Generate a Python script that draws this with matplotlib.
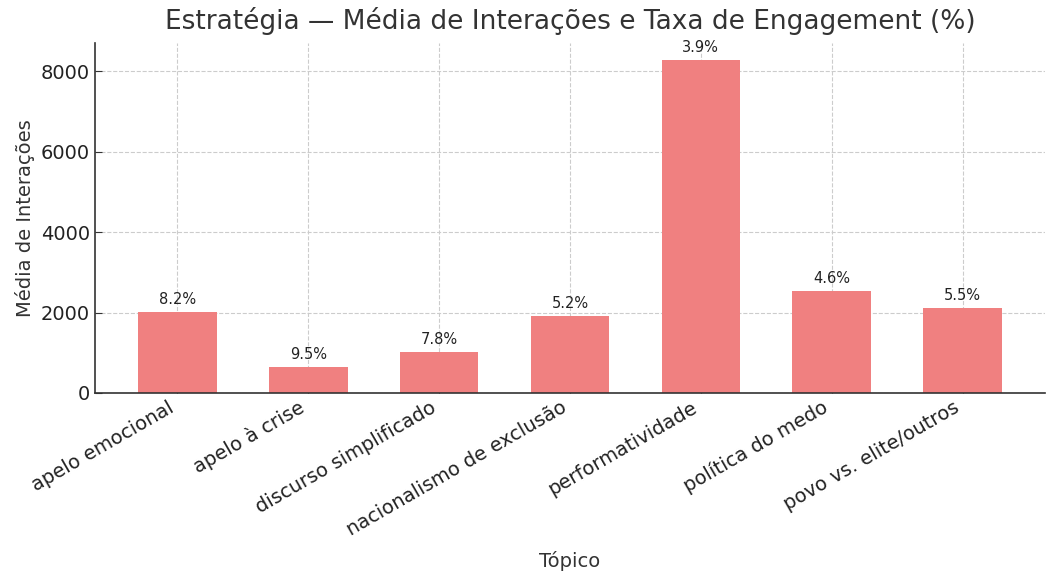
import matplotlib
matplotlib.use("Agg")
import matplotlib.pyplot as plt

topics = ["apelo emocional", "apelo à crise", "discurso simplificado",
          "nacionalismo de exclusão", "performatividade", "política do medo",
          "povo vs. elite/outros"]
interactions = [2020, 650, 1020, 1920, 8290, 2540, 2120]
engagement = [8.2, 9.5, 7.8, 5.2, 3.9, 4.6, 5.5]

fig = plt.figure(figsize=(10.47, 5.72), dpi=100)
ax = fig.add_axes([95/1047, 1 - 393/572, (1045-95)/1047, (393-43)/572])

x = range(len(topics))
bars = ax.bar(x, interactions, width=0.6, color="#F08080", zorder=2)
for b, e in zip(bars, engagement):
    ax.text(b.get_x() + b.get_width()/2, b.get_height() + 120, f"{e}%",
            ha="center", va="bottom", fontsize=10.5, color="#222222", zorder=3)

ax.set_xticks(list(x))
ax.set_xticklabels(topics, rotation=30, ha="right", fontsize=14)
ax.tick_params(axis="y", labelsize=14)
ax.tick_params(direction="in", length=5, color="#333333", labelcolor="#222222")
ax.set_ylabel("Média de Interações", fontsize=14, color="#333333")
ax.set_xlabel("Tópico", fontsize=14, color="#333333", labelpad=8)
ax.set_title("Estratégia — Média de Interações e Taxa de Engagement (%)",
             fontsize=19, color="#333333", pad=10)
ax.grid(True, linestyle="--", color="#cccccc", linewidth=0.8, zorder=0)
ax.set_axisbelow(True)
for s in ["top", "right"]:
    ax.spines[s].set_visible(False)
for s in ["left", "bottom"]:
    ax.spines[s].set_color("#333333")
    ax.spines[s].set_linewidth(1.2)
ax.set_yticks([0, 2000, 4000, 6000, 8000])

fig.savefig("out.png", dpi=100)
